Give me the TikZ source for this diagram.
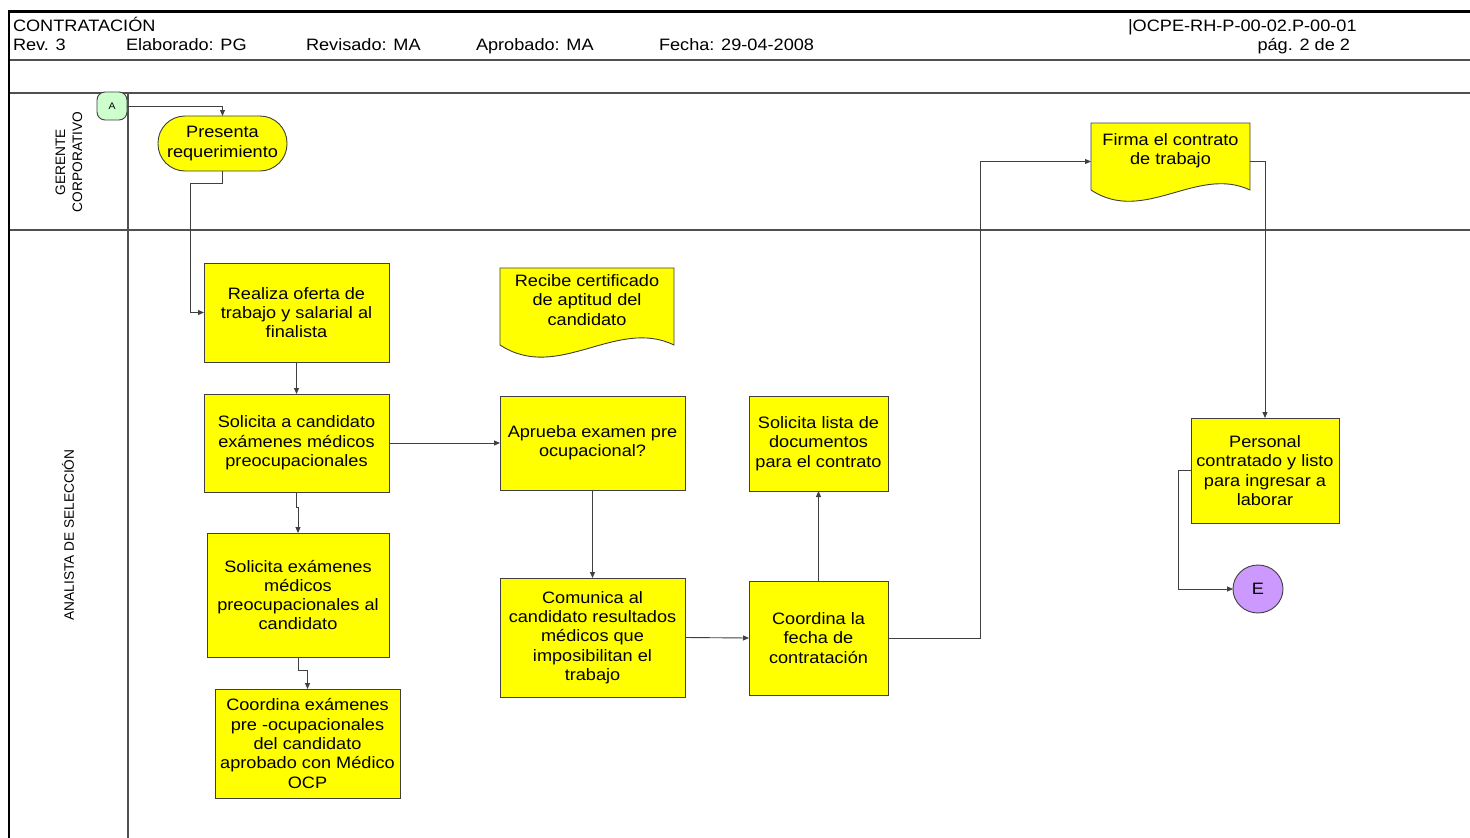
\documentclass[tikz,border=0pt]{standalone}
\usepackage{fontspec}
\setmainfont{Liberation Sans}[FakeStretch=1.1]
\newfontfamily\lanefont{Liberation Sans}
\usetikzlibrary{arrows.meta,backgrounds,shapes.geometric}
\definecolor{boxyellow}{HTML}{FFFF00}
\definecolor{edgegray}{HTML}{404040}
\definecolor{rulegray}{HTML}{505050}
\definecolor{connGreen}{HTML}{CCFFCC}
\definecolor{endViolet}{HTML}{CC99FF}

\tikzset{
  every node/.style={inner sep=0pt, outer sep=0pt},
  txt/.style={font=\fontsize{16.5}{19.3}\selectfont, align=center, text=black},
  hdr/.style={font=\fontsize{16.5}{19.3}\selectfont, anchor=base west, text=black},
  lanelabel/.style={font=\lanefont\fontsize{13.7}{17}\selectfont, align=center, rotate=90, text=black},
  procbox/.style={txt, rectangle, draw=edgegray, fill=boxyellow, line width=0.9pt},
  termbox/.style={txt, rectangle, rounded corners=27pt, draw=edgegray, fill=boxyellow, line width=0.9pt},
  docanchor/.style={rectangle, draw=none},
  docshape/.style={draw=edgegray, fill=boxyellow, line width=0.9pt},
  offpage/.style={rectangle, rounded corners=8pt, draw=edgegray, fill=connGreen, line width=0.9pt,
    font=\fontsize{9.5}{11}\selectfont},
  endpoint/.style={ellipse, draw=edgegray, fill=endViolet, line width=0.9pt,
    minimum width=50pt, minimum height=48pt, font=\fontsize{16.5}{19.3}\selectfont},
  flow/.style={draw=edgegray, line width=0.9pt, -{Triangle[length=6pt,width=5pt]}},
  lanerule/.style={draw=rulegray, line width=1.2pt},
}

\begin{document}
\begin{tikzpicture}[x=1pt,y=-1pt]
  \useasboundingbox (0,0) rectangle (1470,838);
  \begin{scope}[on background layer]
    \fill[white] (0,0) rectangle (1470,838);
  \end{scope}

  % page frame and swimlane rules
  \draw[lanerule] (9,60) -- (1470,60);
  \draw[lanerule] (9,93) -- (1470,93);
  \draw[lanerule] (9,230) -- (1470,230);
  \draw[lanerule] (128,93) -- (128,838);
  \draw[black, line width=3pt] (8,11) -- (1470,11);
  \draw[black, line width=2.6pt] (9,10) -- (9,838);

  % header
  \node[hdr] (title) at (13,31.5) {CONTRATACIÓN};
  \node[hdr] (rev) at (13,50) {Rev. 3};
  \node[hdr] (elab) at (126,50) {Elaborado: PG};
  \node[hdr] (revis) at (306,50) {Revisado: MA};
  \node[hdr] (aprob) at (476,50) {Aprobado: MA};
  \node[hdr] (fecha hdr) at (659,50) {Fecha: 29-04-2008};
  \node[hdr] (codigo) at (1128,31.5) {|OCPE-RH-P-00-02.P-00-01};
  \node[hdr, anchor=base east] (pagina) at (1350,50) {pág. 2 de 2};

  % lane titles
  \node[lanelabel] (lane gc) at (69,162) {GERENTE\\CORPORATIVO};
  \node[lanelabel] (lane as) at (68,535) {ANALISTA DE SELECCIÓN};

  % process steps
  \node[offpage, minimum width=30pt, minimum height=28pt] (conA) at (112,106) {A};
  \node[termbox, minimum width=129pt, minimum height=55pt] (presenta) at (222.5,143.5)
    {Presenta\\requerimiento};
  \node[procbox, minimum width=185pt, minimum height=99pt] (oferta) at (296.5,312.5)
    {Realiza oferta de\\trabajo y salarial al\\finalista};
  \node[procbox, minimum width=185pt, minimum height=98pt] (solcand) at (296.5,443)
    {Solicita a candidato\\exámenes médicos\\preocupacionales};
  \node[procbox, minimum width=182pt, minimum height=124pt] (solexam) at (298,595)
    {Solicita exámenes\\médicos\\preocupacionales al\\candidato};
  \node[procbox, minimum width=185pt, minimum height=109pt] (coordexam) at (307.5,743.5)
    {Coordina exámenes\\pre -ocupacionales\\del candidato\\aprobado con Médico\\OCP};
  \node[docanchor, minimum width=174pt, minimum height=87pt] (recibe) at (587,311.5) {};
  \node[procbox, minimum width=185pt, minimum height=94pt] (aprueba) at (592.5,443)
    {Aprueba examen pre\\ocupacional?};
  \node[procbox, minimum width=185pt, minimum height=119pt] (comunica) at (592.5,637.5)
    {Comunica al\\candidato resultados\\médicos que\\imposibilitan el\\trabajo};
  \node[procbox, minimum width=139pt, minimum height=95pt] (lista) at (818.5,443.5)
    {Solicita lista de\\documentos\\para el contrato};
  \node[procbox, minimum width=139pt, minimum height=114pt] (fecha) at (818.5,638)
    {Coordina la\\fecha de\\contratación};
  \node[docanchor, minimum width=159pt, minimum height=77pt] (firma) at (1170.5,161.5) {};
  \node[procbox, minimum width=148pt, minimum height=105pt] (personal) at (1265,470.5)
    {Personal\\contratado y listo\\para ingresar a\\laborar};
  \node[endpoint] (fin) at (1258,589) {E};

  % document shapes with a wavy lower edge
  \begin{scope}[on background layer]
    \path[docshape] (recibe.north west) -- (recibe.north east) -- ++(0,77)
      .. controls +(-58,-28) and +(58,38) .. ++(-174,0) -- cycle;
    \path[docshape] (firma.north west) -- (firma.north east) -- ++(0,67)
      .. controls +(-53,-25) and +(53,35) .. ++(-159,0) -- cycle;
  \end{scope}
  \node[txt] (recibe text) at ([yshift=11.5pt]recibe.center)
    {Recibe certificado\\de aptitud del\\candidato};
  \node[txt] (firma text) at ([yshift=11pt]firma.center)
    {Firma el contrato\\de trabajo};

  % connectors
  \draw[flow] (conA.east) -| (presenta.north);
  \draw[flow] (presenta.south) -- ++(0,12) -| ([xshift=-14pt]oferta.west) -- (oferta.west);
  \draw[flow] (oferta.south) -- (solcand.north);
  \draw[flow] (solcand.east) -- (aprueba.west);
  \draw[flow] (solcand.south) -- ++(0,15) -| (solexam.north);
  \draw[flow] (solexam.south) -- ++(0,13) -| (coordexam.north);
  \draw[flow] (aprueba.south) -- (comunica.north);
  \draw[flow] (comunica.east) -- (fecha.west);
  \draw[flow] (fecha.north) -- (lista.south);
  \draw[flow] (fecha.east) -- ++(92,0) |- (firma.west);
  \draw[flow] (firma.east) -| (personal.north);
  \draw[flow] (personal.west) -- ++(-13,0) |- (fin.west);
\end{tikzpicture}
\end{document}
